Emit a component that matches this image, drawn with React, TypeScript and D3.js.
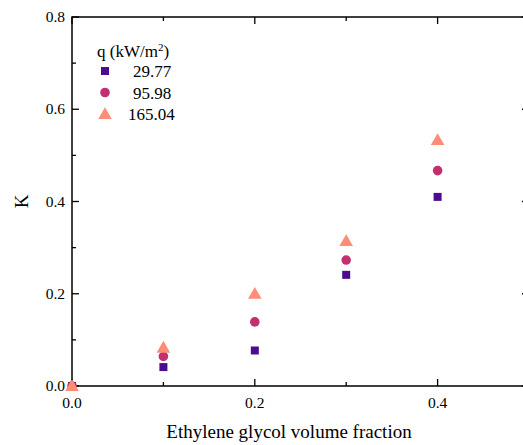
import React from "react";
import * as d3 from "d3";

const xValues = [0.0, 0.1, 0.2, 0.3, 0.4];
const seriesNames = ["29.77", "95.98", "165.04"];
const k29 = [0.0, 0.041, 0.077, 0.241, 0.41];
const k96 = [0.0, 0.064, 0.139, 0.273, 0.467];
const k165 = [0.0, 0.083, 0.2, 0.314, 0.533];
const colors = ["#4b0c8e", "#c2306f", "#fc8d77"];
const symbols = [d3.symbolSquare, d3.symbolCircle, d3.symbolTriangle];
const xMajor = [0, 0.2, 0.4];
const xMinor = [0.1, 0.3];
const yMajor = [0, 0.2, 0.4, 0.6, 0.8];
const yMinor = [0.1, 0.3, 0.5, 0.7];

const W = 523, H = 445;
const left = 72, right = 529, top = 17, bottom = 386;
const font = "Liberation Serif, DejaVu Serif, serif";

export default function App() {
  const x = d3.scaleLinear().domain([0, 0.5]).range([left, right]);
  const y = d3.scaleLinear().domain([0, 0.8]).range([bottom, top]);
  const series = [k29, k96, k165];
  const sizes = [64, 72, 80];
  const fmt = d3.format(".1f");
  return (
    <svg width={W} height={H} style={{ position: "absolute", left: 0, top: 0, background: "#fff", fontFamily: font }}>
      <rect x={0} y={0} width={W} height={H} fill="#fff" />
      <rect x={left} y={top} width={right - left} height={bottom - top} fill="none" stroke="#000" strokeWidth={1.5} />
      {xMajor.map((v) => (
        <g key={"xM" + v}>
          <line x1={x(v)} x2={x(v)} y1={bottom} y2={bottom - 7} stroke="#000" strokeWidth={1.3} />
          <line x1={x(v)} x2={x(v)} y1={top} y2={top + 7} stroke="#000" strokeWidth={1.3} />
          <text x={x(v)} y={bottom + 22} textAnchor="middle" fontSize={15.5}>{fmt(v)}</text>
        </g>
      ))}
      {xMinor.map((v) => (
        <g key={"xm" + v}>
          <line x1={x(v)} x2={x(v)} y1={bottom} y2={bottom - 4} stroke="#000" strokeWidth={1.3} />
          <line x1={x(v)} x2={x(v)} y1={top} y2={top + 4} stroke="#000" strokeWidth={1.3} />
        </g>
      ))}
      {yMajor.map((v) => (
        <g key={"yM" + v}>
          <line x1={left} x2={left + 7} y1={y(v)} y2={y(v)} stroke="#000" strokeWidth={1.3} />
          <line x1={right} x2={right - 7} y1={y(v)} y2={y(v)} stroke="#000" strokeWidth={1.3} />
          <text x={left - 7} y={y(v) + 5} textAnchor="end" fontSize={15.5}>{fmt(v)}</text>
        </g>
      ))}
      {yMinor.map((v) => (
        <g key={"ym" + v}>
          <line x1={left} x2={left + 4} y1={y(v)} y2={y(v)} stroke="#000" strokeWidth={1.3} />
          <line x1={right} x2={right - 4} y1={y(v)} y2={y(v)} stroke="#000" strokeWidth={1.3} />
        </g>
      ))}
      <text x={289} y={438} textAnchor="middle" fontSize={19}>Ethylene glycol volume fraction</text>
      <text transform={`translate(28, ${y(0.4)}) rotate(-90)`} textAnchor="middle" fontSize={19}>K</text>
      {series.map((vals, si) => (
        <g key={"s" + si}>
          {vals.map((v, i) => (
            <path
              key={i}
              d={d3.symbol().type(symbols[si]).size(sizes[si])() as string}
              transform={`translate(${x(xValues[i])}, ${y(v) + (si === 2 ? 1 : 0)})`}
              fill={colors[si]}
            />
          ))}
        </g>
      ))}
      <text x={97} y={57} fontSize={17}>
        q (kW/m<tspan dy={-6} fontSize={11}>2</tspan><tspan dy={6}>)</tspan>
      </text>
      {seriesNames.map((name, i) => (
        <g key={"l" + i}>
          <path
            d={d3.symbol().type(symbols[i]).size(sizes[i])() as string}
            transform={`translate(105, ${71 + i * 21.5 + (i === 2 ? 1 : 0)})`}
            fill={colors[i]}
          />
          <text x={i === 2 ? 128 : 133} y={77 + i * 21.5} fontSize={17}>{name}</text>
        </g>
      ))}
    </svg>
  );
}
